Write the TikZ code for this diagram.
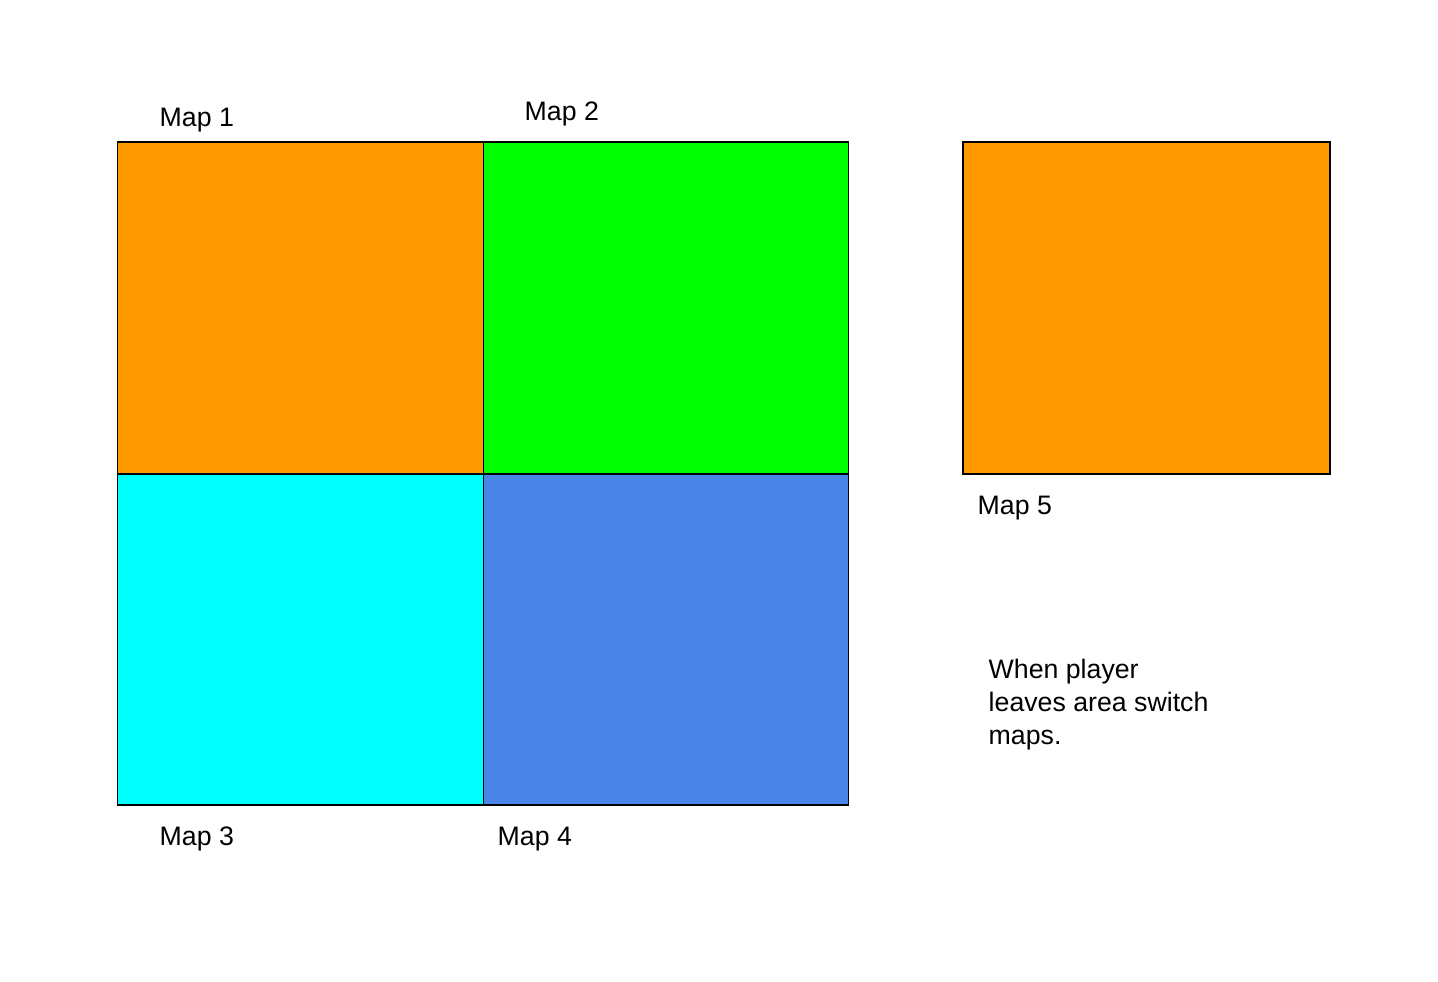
\documentclass[tikz,border=0pt]{standalone}
\usepackage{fontspec}
\setmainfont{Liberation Sans}
\usepackage{tikz}
\definecolor{maporange}{HTML}{FF9900}
\definecolor{mapgreen}{HTML}{00FF00}
\definecolor{mapcyan}{HTML}{00FFFF}
\definecolor{mapblue}{HTML}{4A86E8}
\tikzset{
  mapbox/.style={draw=black, line width=0.4pt, inner sep=0pt, minimum width=3.655cm, minimum height=3.32cm},
  maplabel/.style={anchor=base west, inner sep=0pt, font=\fontsize{7.6}{9.4}\selectfont}
}

\begin{document}
\begin{tikzpicture}
    \useasboundingbox (0,0) rectangle (14.38,9.82);
    \node[mapbox, fill=maporange] (M1) at (3.005,6.74) {};
    \node[mapbox, fill=mapgreen] (M2) at (6.66,6.74) {};
    \node[mapbox, fill=mapcyan, minimum height=3.31cm] (M3) at (3.005,3.425) {};
    \node[mapbox, fill=mapblue, minimum height=3.31cm] (M4) at (6.66,3.425) {};
    \node[mapbox, fill=maporange, minimum width=3.67cm] (M5) at (11.465,6.74) {};
    \node[maplabel] (L1) at (1.59,8.55) {Map 1};
    \node[maplabel] (L2) at (5.24,8.61) {Map 2};
    \node[maplabel] (L3) at (1.59,1.36) {Map 3};
    \node[maplabel] (L4) at (4.97,1.36) {Map 4};
    \node[maplabel] (L5) at (9.77,4.67) {Map 5};
    \node[maplabel, anchor=north west, align=left] (note) at (9.88,3.24)
      {When player\\leaves area switch\\maps.};
  \end{tikzpicture}
\end{document}
